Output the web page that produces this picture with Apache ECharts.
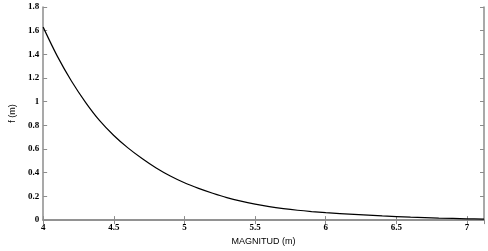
<!DOCTYPE html>
<html>
<head>
<meta charset="utf-8">
<script src="https://cdn.jsdelivr.net/npm/echarts@6/dist/echarts.min.js"></script>
<style>
  html, body { margin: 0; padding: 0; background: #fff; }
  #chart { width: 488px; height: 251px; }
</style>
</head>
<body>
<div id="chart"></div>
<script>
// magnitude (x) and f (y)
const magnitud = [4.0, 4.1, 4.2, 4.3, 4.4, 4.5, 4.6, 4.7, 4.8, 4.9, 5.0, 5.1, 5.2, 5.3, 5.4, 5.5,
  5.6, 5.7, 5.8, 5.9, 6.0, 6.2, 6.4, 6.6, 6.8, 7.0, 7.12];
const fValues = [1.63, 1.385, 1.175, 0.995, 0.84, 0.715, 0.61, 0.52, 0.44, 0.372, 0.315, 0.268,
  0.227, 0.19, 0.16, 0.135, 0.114, 0.097, 0.083, 0.072, 0.063, 0.048, 0.035, 0.025, 0.017, 0.011, 0.008];

const chart = echarts.init(document.getElementById("chart"));
const frame = "#8c8c8c";
const tickFont = { color: "#000", fontFamily: "Liberation Serif", fontWeight: "bold", fontSize: 9 };

const option = {
  animation: false,
  grid: { left: 29, right: 4, top: 7, bottom: 28, containLabel: false },
  xAxis: [
    {
      type: "value",
      min: 4,
      max: 7.12,
      interval: 0.5,
      name: "MAGNITUD (m)",
      nameLocation: "middle",
      nameGap: 16,
      nameTextStyle: { color: "#000", fontFamily: "Liberation Sans", fontSize: 9 },
      axisLine: { lineStyle: { color: frame, width: 1.5 } },
      axisTick: { inside: true, length: 4, lineStyle: { color: frame } },
      axisLabel: { ...tickFont, margin: 3, showMaxLabel: false },
      splitLine: { show: false },
    },
    {
      type: "value",
      position: "top",
      min: 4,
      max: 7.12,
      interval: 0.5,
      axisLine: { lineStyle: { color: frame, width: 1.5 } },
      axisTick: { inside: true, length: 4, lineStyle: { color: frame } },
      axisLabel: { show: false },
      splitLine: { show: false },
    },
  ],
  yAxis: [
    {
      type: "value",
      min: 0,
      max: 1.8,
      interval: 0.2,
      name: "f (m)",
      nameLocation: "middle",
      nameGap: 23,
      nameTextStyle: { color: "#000", fontFamily: "Liberation Sans", fontSize: 9 },
      axisLine: { show: true, lineStyle: { color: frame, width: 1.5 } },
      axisTick: { show: true, inside: true, length: 4, lineStyle: { color: frame } },
      axisLabel: { ...tickFont, margin: 4 },
      splitLine: { show: false },
    },
    {
      type: "value",
      position: "right",
      min: 0,
      max: 1.8,
      interval: 0.2,
      axisLine: { show: true, lineStyle: { color: frame, width: 1.5 } },
      axisTick: { show: true, inside: true, length: 4, lineStyle: { color: frame } },
      axisLabel: { show: false },
      splitLine: { show: false },
    },
  ],
  series: [
    {
      type: "line",
      data: magnitud.map((m, i) => [m, fValues[i]]),
      smooth: 0.3,
      showSymbol: false,
      lineStyle: { color: "#000", width: 1.2 },
      clip: true,
    },
  ],
};
chart.setOption(option);
</script>
</body>
</html>
